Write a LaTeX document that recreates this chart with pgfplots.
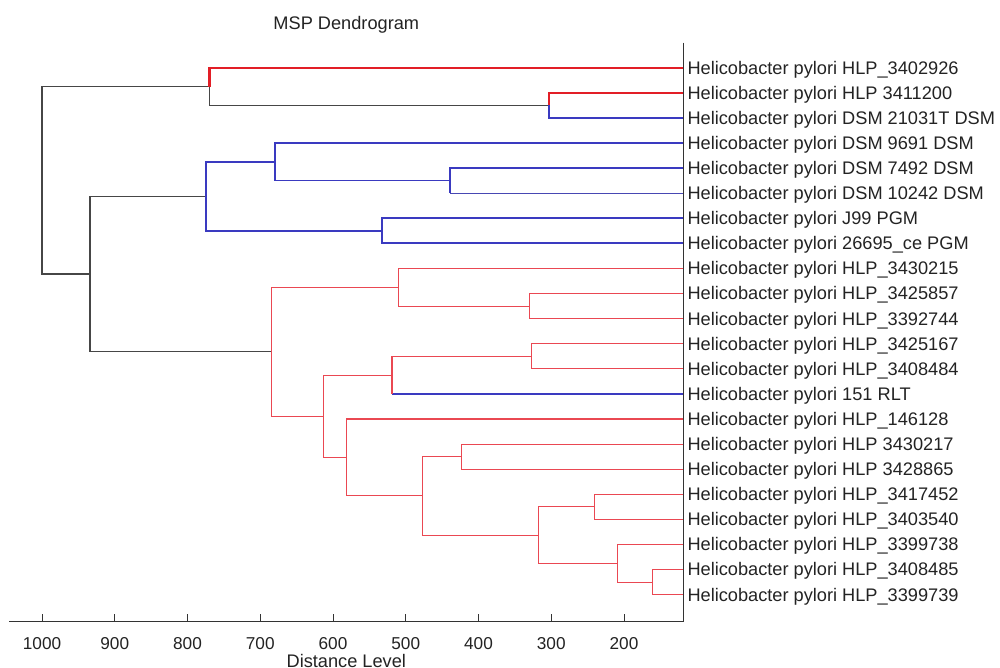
\documentclass[border=0pt]{standalone}
\usepackage{fontspec}
\setmainfont{Liberation Sans}
\usepackage{pgfplots}
\pgfplotsset{compat=1.18}
\definecolor{dred}{RGB}{226,30,38}
\definecolor{lred}{RGB}{234,72,82}
\definecolor{dblue}{RGB}{58,58,192}
\definecolor{dgray}{RGB}{70,70,70}
\definecolor{txt}{RGB}{35,35,35}
\begin{document}
\begin{tikzpicture}
\useasboundingbox (-4.65pt,-23.25pt) rectangle (495.35pt,310.75pt);
\begin{axis}[
  at={(0,0)}, anchor=south west,
  scale only axis, width=337pt, height=289.4pt,
  xmin=118.5, xmax=1045, x dir=reverse,
  ymin=0, ymax=23.07, y dir=reverse,
  axis x line*=bottom, axis y line*=right,
  axis line style={black!80, line width=0.6pt},
  xtick={200,300,...,1000},
  ytick={1,...,22},
  yticklabels={
    Helicobacter pylori HLP\_3402926,
    Helicobacter pylori HLP 3411200,
    Helicobacter pylori DSM 21031T DSM,
    Helicobacter pylori DSM 9691 DSM,
    Helicobacter pylori DSM 7492 DSM,
    Helicobacter pylori DSM 10242 DSM,
    Helicobacter pylori J99 PGM,
    Helicobacter pylori 26695\_ce PGM,
    Helicobacter pylori HLP\_3430215,
    Helicobacter pylori HLP\_3425857,
    Helicobacter pylori HLP\_3392744,
    Helicobacter pylori HLP\_3425167,
    Helicobacter pylori HLP\_3408484,
    Helicobacter pylori 151 RLT,
    Helicobacter pylori HLP\_146128,
    Helicobacter pylori HLP 3430217,
    Helicobacter pylori HLP 3428865,
    Helicobacter pylori HLP\_3417452,
    Helicobacter pylori HLP\_3403540,
    Helicobacter pylori HLP\_3399738,
    Helicobacter pylori HLP\_3408485,
    Helicobacter pylori HLP\_3399739},
  tick align=inside,
  major tick length=4pt,
  tick style={black!80, line width=0.5pt},
  /pgf/number format/assume math mode=true,
  /pgf/number format/1000 sep={},
  xticklabel style={font=\fontsize{8.6}{10}\selectfont, text=txt, anchor=base, yshift=-14pt},
  yticklabel style={font=\fontsize{9.1}{11}\selectfont, text=txt, anchor=base west, inner sep=0pt, xshift=1.9pt, yshift=-3.2pt},
  every axis title shift=0pt,
  title={MSP Dendrogram},
  title style={font=\fontsize{9.1}{11}\selectfont, text=txt, at={(axis description cs:0.5,1)}, anchor=base, yshift=6.35pt},
  xlabel={Distance Level},
  xlabel style={font=\fontsize{9.1}{11}\selectfont, text=txt, at={(axis description cs:0.5,0)}, anchor=base, yshift=-22.75pt},
]
% dark (mixed) links
\addplot[dgray, line width=0.55pt] coordinates {(770,1.75) (1000,1.75) (1000,9.22) (934,9.22)};
\addplot[dgray, line width=0.55pt] coordinates {(770,1.75) (770,2.5) (303,2.5)};
\addplot[dgray, line width=0.55pt] coordinates {(774,6.125) (934,6.125) (934,12.32) (685,12.32)};
% red thick top
\addplot[dred, line width=1.25pt] coordinates {(118.5,1) (770,1) (770,1.75)};
\addplot[dred, line width=1.0pt] coordinates {(118.5,2) (303,2) (303,2.5)};
% blue
\addplot[dblue, line width=1.0pt] coordinates {(303,2.5) (303,3) (118.5,3)};
\addplot[dblue, line width=1.0pt] coordinates {(680,4.75) (774,4.75) (774,7.5) (532,7.5)};
\addplot[dblue, line width=1.0pt] coordinates {(118.5,4) (680,4) (680,5.5)};
\addplot[dblue, line width=0.6pt] coordinates {(680,5.5) (439,5.5)};
\addplot[dblue, line width=1.0pt] coordinates {(118.5,5) (439,5) (439,6)};
\addplot[dblue!80!gray, line width=0.5pt] coordinates {(439,6) (118.5,6)};
\addplot[dblue, line width=1.0pt] coordinates {(118.5,7) (532,7) (532,8) (118.5,8)};
\addplot[dblue, line width=1.0pt] coordinates {(519,14) (118.5,14)};
% red thin cluster
\addplot[lred, line width=0.55pt] coordinates {(118.5,10) (330,10) (330,11) (118.5,11)};
\addplot[lred, line width=0.55pt] coordinates {(118.5,9) (510,9) (510,10.5) (330,10.5)};
\addplot[lred, line width=0.55pt] coordinates {(118.5,12) (327,12) (327,13) (118.5,13)};
\addplot[lred, line width=0.55pt] coordinates {(327,12.5) (519,12.5) (519,14)};
\addplot[lred, line width=0.55pt] coordinates {(519,13.25) (613,13.25) (613,16.53) (581,16.53)};
\addplot[lred, line width=0.55pt] coordinates {(510,9.75) (685,9.75) (685,14.89) (613,14.89)};
\addplot[lred, line width=0.55pt] coordinates {(118.5,16) (424,16) (424,17) (118.5,17)};
\addplot[lred, line width=0.55pt] coordinates {(118.5,18) (241,18) (241,19) (118.5,19)};
\addplot[lred, line width=0.55pt] coordinates {(118.5,21) (161,21) (161,22) (118.5,22)};
\addplot[lred, line width=0.55pt] coordinates {(118.5,20) (209,20) (209,21.5) (161,21.5)};
\addplot[lred, line width=0.55pt] coordinates {(241,18.5) (317,18.5) (317,20.75) (209,20.75)};
\addplot[lred, line width=0.55pt] coordinates {(424,16.5) (477,16.5) (477,19.625) (317,19.625)};
\addplot[lred, line width=0.55pt] coordinates {(118.5,15) (581,15) (581,18.0625) (477,18.0625)};
\end{axis}
\end{tikzpicture}
\end{document}
